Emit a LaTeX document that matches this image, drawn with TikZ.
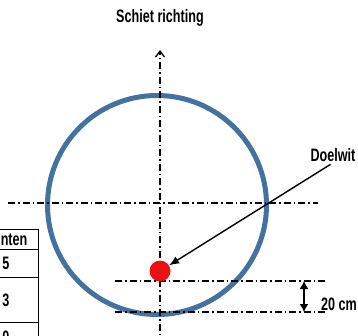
\documentclass[tikz,border=0pt]{standalone}
\usepackage{fontspec}
\setmainfont{Liberation Sans}[FakeStretch=0.7]
\usetikzlibrary{arrows.meta,positioning}
\definecolor{ringblue}{RGB}{68,114,160}
\definecolor{dotred}{RGB}{236,18,18}
\tikzset{
  axisline/.style={line width=1.1pt,dash pattern=on 7pt off 3pt on 1.5pt off 3pt},
  lbl/.style={font=\bfseries\fontsize{18}{20}\selectfont,inner sep=1pt},
  cellline/.style={line width=0.8pt},
}

\begin{document}
\begin{tikzpicture}[x=1pt,y=-1pt]
  \useasboundingbox (0,0) rectangle (358,336);
  \clip (0,0) rectangle (358,336);

  % target ring
  \draw[ringblue,line width=5pt] (157,205) circle (109.5);

  % axes
  \coordinate (axtop) at (160,50);
  \coordinate (axbot) at (160,345);
  \draw[axisline,-{Straight Barb[length=6pt,width=9pt,line width=1.3pt]}] (axbot) -- (axtop);
  \node[lbl] (richting) at (160,18) {Schiet richting};

  \coordinate (midL) at (8,203);
  \coordinate (midR) at (318,203);
  \draw[axisline] (midL) -- (midR);

  \coordinate (upL) at (115,281);
  \coordinate (upR) at (325,281);
  \coordinate (loL) at (115,312);
  \coordinate (loR) at (325,312);
  \draw[axisline] (upL) -- (upR);
  \draw[axisline] (loL) -- (loR);

  % the target
  \node[circle,fill=dotred,minimum size=21pt,inner sep=0pt] (dot) at (160,271) {};
  \node[lbl] (doelwit) at (333,155) {Doelwit};
  \draw[line width=1.4pt,shorten <=3pt,-{Latex[length=10pt,width=8pt]}] (doelwit.south) -- (dot);

  % 20 cm gap
  \coordinate (gaptop) at (304,281);
  \coordinate (gapbot) at (304,312);
  \draw[line width=1.3pt,{Latex[length=8pt,width=9pt]}-{Latex[length=8pt,width=9pt]}] (gaptop) -- (gapbot);
  \node[lbl,anchor=east] (gap) at (358,304) {20 cm};

  % points table
  \foreach \yy in {229,249,277,322}{
    \draw[cellline] (-30,\yy) -- (38,\yy);
  }
  \draw[cellline] (38,229) -- (38,345);
  \node[lbl] (punten) at (6,239) {Punten};
  \node[lbl] (pfive) at (6,263) {5};
  \node[lbl] (pthree) at (6,300) {3};
  \node[lbl] (pzero) at (6,337) {0};
\end{tikzpicture}
\end{document}
